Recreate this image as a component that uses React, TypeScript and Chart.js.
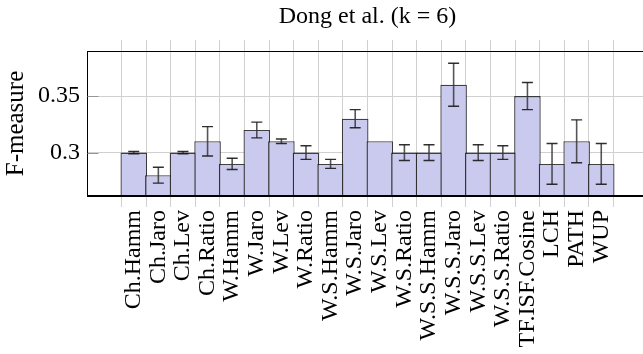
import React, { useEffect, useRef } from "react";
import { Chart, registerables } from "chart.js";

Chart.register(...registerables);

const title = "Dong et al. (k = 6)";
const yTitle = "F-measure";
const categories = [
  "Ch.Hamm", "Ch.Jaro", "Ch.Lev", "Ch.Ratio", "W.Hamm", "W.Jaro", "W.Lev", "W.Ratio",
  "W.S.Hamm", "W.S.Jaro", "W.S.Lev", "W.S.Ratio", "W.S.S.Hamm", "W.S.S.Jaro", "W.S.S.Lev",
  "W.S.S.Ratio", "TF.ISF.Cosine", "LCH", "PATH", "WUP",
];
const values = [
  0.30, 0.28, 0.30, 0.31, 0.29, 0.32, 0.31, 0.30, 0.29, 0.33,
  0.31, 0.30, 0.30, 0.36, 0.30, 0.30, 0.35, 0.29, 0.31, 0.29,
];
const errors = [
  0.001, 0.007, 0.001, 0.013, 0.005, 0.007, 0.002, 0.006, 0.004, 0.008,
  0.0, 0.007, 0.007, 0.019, 0.007, 0.006, 0.012, 0.018, 0.019, 0.018,
];
const yTicks = [0.3, 0.35];
const yTickLabels = ["0.3", "0.35"];
const yMin = 0.2616;
const yMax = 0.3899;
const xMin = -1.9;
const xMax = 20.9;

const FONT = "Liberation Serif";
const GRID = "rgb(208,208,208)";

const errorBarPlugin = {
  id: "errorBars",
  afterDatasetsDraw(chart: any) {
    const { ctx, scales } = chart;
    const xs = scales.x;
    const ys = scales.y;
    const area = chart.chartArea;
    ctx.save();
    ctx.beginPath();
    ctx.rect(area.left, area.top, area.right - area.left, area.bottom - area.top);
    ctx.clip();
    ctx.strokeStyle = "#000";
    ctx.lineWidth = 1;
    ctx.beginPath();
    const l = Math.round(area.left) + 0.5;
    const t = Math.round(area.top) + 0.5;
    const b = Math.round(area.bottom) - 0.5;
    ctx.moveTo(area.right, t);
    ctx.lineTo(l, t);
    ctx.lineTo(l, b);
    ctx.lineTo(area.right, b);
    ctx.stroke();
    ctx.strokeStyle = "rgb(150,150,150)";
    yTicks.forEach((v) => {
      const py = Math.round(ys.getPixelForValue(v)) + 0.5;
      ctx.beginPath();
      ctx.moveTo(l, py);
      ctx.lineTo(l + 11, py);
      ctx.stroke();
    });
    values.forEach((v, i) => {
      const e = errors[i];
      if (!e) return;
      const px = xs.getPixelForValue(i);
      const yHi = ys.getPixelForValue(v + e);
      const yLo = ys.getPixelForValue(v - e);
      ctx.strokeStyle = "rgba(55,55,55,0.85)";
      ctx.lineWidth = 1.6;
      ctx.beginPath();
      ctx.moveTo(px, yHi);
      ctx.lineTo(px, yLo);
      ctx.stroke();
      ctx.strokeStyle = "rgba(25,25,25,0.9)";
      ctx.lineWidth = 1.4;
      ctx.beginPath();
      ctx.moveTo(px - 5.5, yHi);
      ctx.lineTo(px + 5.5, yHi);
      ctx.moveTo(px - 5.5, yLo);
      ctx.lineTo(px + 5.5, yLo);
      ctx.stroke();
    });
    ctx.restore();
  },
};

export default function App() {
  const ref = useRef<HTMLCanvasElement | null>(null);
  useEffect(() => {
    if (!ref.current) return;
    Chart.defaults.font.family = FONT;
    const chart = new Chart(ref.current, {
      type: "bar",
      data: {
        datasets: [
          {
            data: values.map((v, i) => ({ x: i, y: v })),
            backgroundColor: "rgb(202,202,238)",
            borderColor: "rgba(30,30,30,0.85)",
            borderWidth: 1.3,
            borderSkipped: "start",
            categoryPercentage: 1,
            barPercentage: 1.08,
          },
        ],
      },
      options: {
        responsive: false,
        animation: false,
        devicePixelRatio: 1,
        layout: { padding: { left: 0, right: 12, top: 0, bottom: 0 } },
        plugins: {
          legend: { display: false },
          tooltip: { enabled: false },
          title: {
            display: true,
            text: title,
            color: "#000",
            fullSize: false,
            font: { family: FONT, size: 24, weight: "normal", lineHeight: 1.2 },
            padding: { top: 2, bottom: 9.2 },
          },
        },
        scales: {
          x: {
            type: "linear",
            position: "bottom",
            min: xMin,
            max: xMax,
            offset: false,
            afterBuildTicks: (s: any) => {
              s.ticks = categories.map((_, i) => ({ value: i }));
            },
            afterFit: (s: any) => {
              s.height = 158;
            },
            grid: { color: GRID, tickLength: 11, drawOnChartArea: true, lineWidth: 1 },
            border: { display: true, color: "#000" },
            ticks: {
              autoSkip: false,
              minRotation: 90,
              maxRotation: 90,
              padding: 3,
              color: "#000",
              font: { family: FONT, size: 24 },
              callback: (v: any) => categories[v] ?? "",
            },
          },
          xTop: {
            type: "linear",
            position: "top",
            min: xMin,
            max: xMax,
            offset: false,
            afterBuildTicks: (s: any) => {
              s.ticks = categories.map((_, i) => ({ value: i }));
            },
            afterFit: (s: any) => {
              s.height = 11;
            },
            grid: { color: GRID, tickLength: 11, drawOnChartArea: false },
            border: { display: true, color: "#000" },
            ticks: { display: false },
          },
          y: {
            type: "linear",
            min: yMin,
            max: yMax,
            afterBuildTicks: (s: any) => {
              s.ticks = yTicks.map((v) => ({ value: v }));
            },
            afterFit: (s: any) => {
              s.width = 87;
            },
            grid: { color: GRID, drawTicks: false },
            border: { display: true, color: "#000" },
            ticks: {
              padding: 7,
              color: "#000",
              font: { family: FONT, size: 24 },
              callback: (_v: any, i: number) => yTickLabels[i],
            },
            title: {
              display: true,
              text: yTitle,
              color: "#000",
              font: { family: FONT, size: 25 },
              padding: { top: 1, bottom: 0 },
            },
          },
        },
      },
      plugins: [errorBarPlugin],
    } as any);
    return () => chart.destroy();
  }, []);
  return (
    <div
      style={{
        position: "fixed",
        left: 0,
        top: 0,
        width: 643,
        height: 354,
        overflow: "hidden",
        background: "#fff",
      }}
    >
      <canvas ref={ref} width={660} height={354} style={{ display: "block" }} />
    </div>
  );
}
